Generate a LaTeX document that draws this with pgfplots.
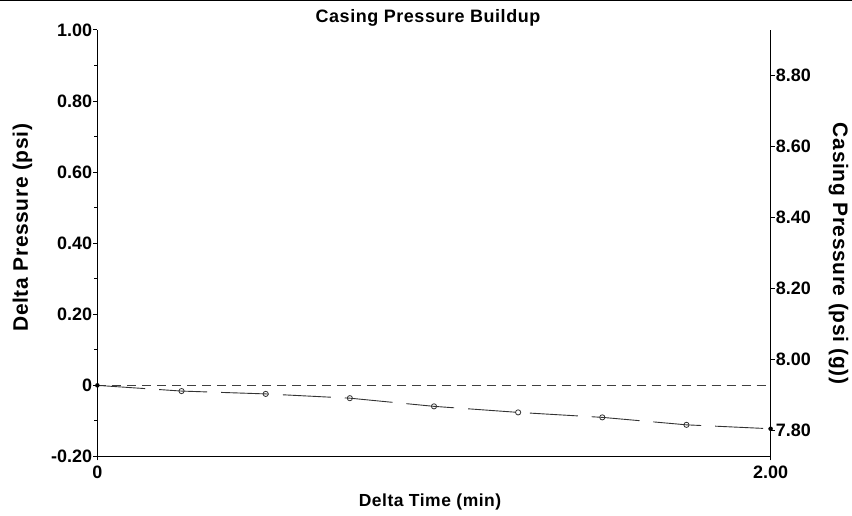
\documentclass[border=0pt]{standalone}
\usepackage{pgfplots}
\pgfplotsset{compat=1.18}
\usepackage{fontspec}
\setmainfont{Liberation Sans}
\begin{document}
\begin{tikzpicture}
\pgfplotsset{
  common/.style={
    at={(0pt,0pt)}, anchor=south west,
    scale only axis, width=674pt, height=427pt,
    xmin=0, xmax=2,
    tick align=outside,
    major tick length=4pt, minor tick length=3pt,
    tick style={black, line width=1pt},
    axis line style={line width=1.5pt, -},
    ticklabel style={font=\fontsize{18}{18}\selectfont\bfseries, inner sep=1pt},
    /pgf/number format/assume math mode=true,
  }
}
\begin{axis}[common,
  ymin=-0.2, ymax=1.0,
  axis x line*=bottom, axis y line*=left,
  xtick={0,2}, xticklabels={0,2.00},
  xticklabel style={yshift=-4pt},
  ytick={-0.2,0,0.2,0.4,0.6,0.8,1.0},
  yticklabels={-0.20,0,0.20,0.40,0.60,0.80,1.00},
  minor ytick={-0.1,0.1,0.3,0.5,0.7,0.9},
]
\addplot[black!75, line width=0.8pt, dash pattern=on 9pt off 6pt, forget plot] coordinates {(0,0) (2,0)};
\addplot[black!80, line width=0.9pt, dash pattern=on 48pt off 14pt, forget plot]
  coordinates {
  (0,0) (0.25,-0.016) (0.5,-0.024) (0.75,-0.036) (1.0,-0.059)
  (1.25,-0.076) (1.5,-0.090) (1.75,-0.111) (2.0,-0.122)
  };
\addplot[only marks, mark=o, mark size=2.6pt, mark options={solid, black!80, line width=0.8, fill=white}]
  coordinates {
  (0.25,-0.016) (0.5,-0.024) (0.75,-0.036) (1.0,-0.059)
  (1.25,-0.076) (1.5,-0.090) (1.75,-0.111)
  };
\addplot[only marks, mark=*, mark size=2pt, black] coordinates {(0,0) (2.0,-0.122)};
\end{axis}
\begin{axis}[common,
  ymin=7.727, ymax=8.927,
  axis x line=none, axis y line*=right,
  ytick={7.8,8.0,8.2,8.4,8.6,8.8},
  yticklabels={7.80,8.00,8.20,8.40,8.60,8.80},
]
\end{axis}
\draw[line width=1pt] (-97pt,456pt) -- (755pt,456pt);
\node[font=\fontsize{18}{18}\selectfont\bfseries\addfontfeature{LetterSpace=3}] at (331pt,439pt) {Casing Pressure Buildup};
\node[font=\fontsize{17.5}{17.5}\selectfont\bfseries\addfontfeature{LetterSpace=3}] at (333pt,-46pt) {Delta Time (min)};
\node[rotate=90, font=\fontsize{21}{21}\selectfont\bfseries\addfontfeature{LetterSpace=3}] at (-75pt,229pt) {Delta Pressure (psi)};
\node[rotate=-90, font=\fontsize{21}{21}\selectfont\bfseries\addfontfeature{LetterSpace=3}] at (742pt,203pt) {Casing Pressure (psi (g))};
\useasboundingbox (-97pt,-59pt) rectangle (755pt,457pt);
\end{tikzpicture}
\end{document}
